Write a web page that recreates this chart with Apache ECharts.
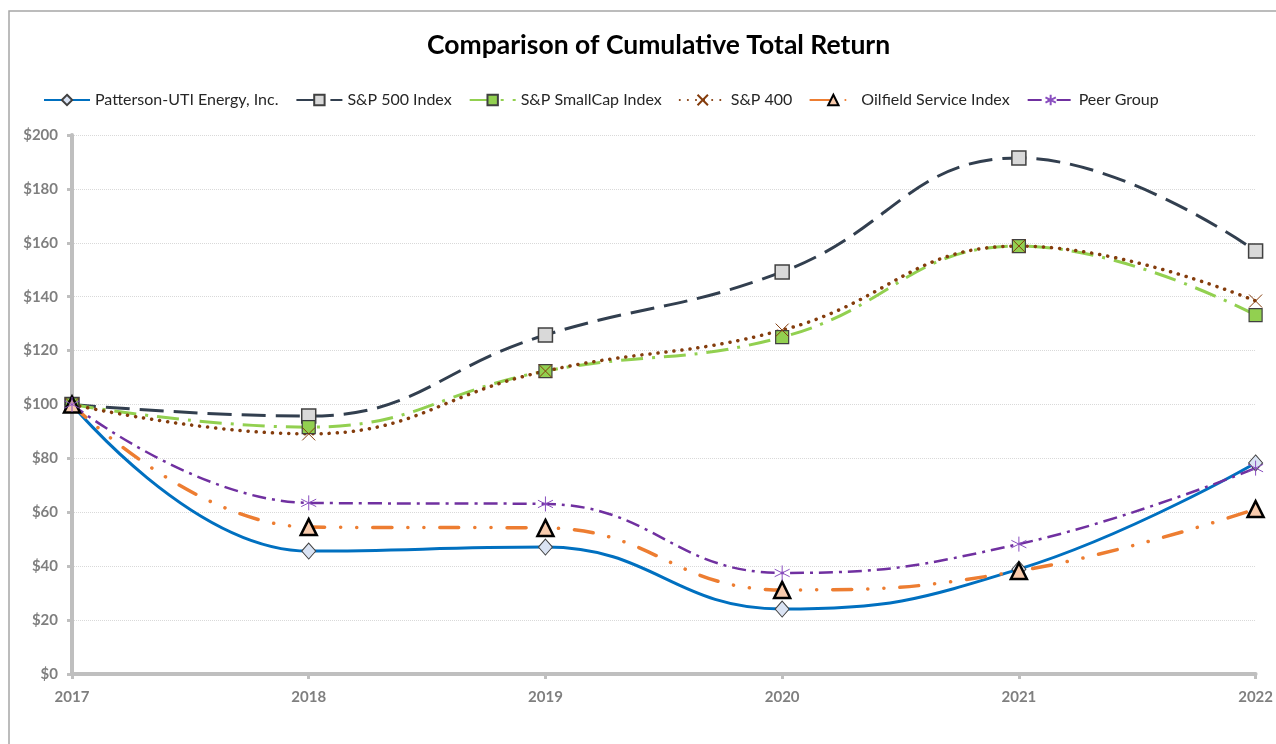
<!DOCTYPE html>
<html>
<head>
<meta charset="utf-8">
<title>Comparison of Cumulative Total Return</title>
<script src="https://cdn.jsdelivr.net/npm/echarts@6/dist/echarts.min.js"></script>
<style>
    html, body { margin: 0; padding: 0; background: #fff; }
    #main { width: 1276px; height: 744px; }
</style>
</head>
<body>
<div id="main"></div>
<script>
// years on the x axis
var years = ['2017', '2018', '2019', '2020', '2021', '2022'];

// cumulative value of $100 invested
var patterson = [100, 45.6, 47.1, 24.1, 38.9, 78.3];
var sp500 = [100, 95.7, 125.8, 149.2, 191.5, 157.0];
var smallCap = [100, 91.6, 112.4, 125.0, 158.8, 133.2];
var sp400 = [100, 89.1, 112.4, 127.6, 158.8, 138.4];
var oilfield = [100, 54.5, 54.2, 31.2, 38.2, 61.2];
var peerGroup = [100, 63.5, 63.1, 37.5, 48.2, 76.4];

var font = 'Lato, "Open Sans", sans-serif';

// path markers for the x and the asterisk
var crossPath = 'path://M0,0L10,10M10,0L0,10';
var starPath = 'path://M5,0L5,10M0.7,2.5L9.3,7.5M0.7,7.5L9.3,2.5';

var myChart = echarts.init(document.getElementById('main'));

function line(name, data, color, width, dash, cap, symbol, size, fill, border, borderWidth) {
    return {
        name: name,
        type: 'line',
        data: data,
        smooth: 0.45,
        symbol: symbol,
        symbolSize: size,
        showSymbol: true,
        lineStyle: { color: color, width: width, type: dash, cap: cap },
        itemStyle: { color: fill, borderColor: border, borderWidth: borderWidth, opacity: 1 },
        emphasis: { disabled: true }
    };
}

var option = {
    backgroundColor: '#fff',
    animation: false,
    textStyle: { fontFamily: font },
    graphic: [{
        type: 'rect',
        shape: { x: 9, y: 11, width: 1400, height: 900 },
        style: { fill: 'none', stroke: '#a6a6a6', lineWidth: 1.5 },
        silent: true
    }],
    title: {
        text: 'Comparison of Cumulative Total Return',
        left: 422,
        top: 27,
        textStyle: { fontSize: 26.5, fontWeight: 'bold', color: '#000', fontFamily: font }
    },
    legend: {
        left: 38,
        top: 87,
        itemWidth: 46,
        itemHeight: 13,
        itemGap: 17,
        textStyle: { fontSize: 16, color: '#262626', fontFamily: font }
    },
    grid: { left: 72, right: 17, top: 135, bottom: 70, containLabel: false },
    xAxis: {
        type: 'category',
        data: years,
        boundaryGap: false,
        axisLine: { lineStyle: { color: '#bfbfbf', width: 4 } },
        axisTick: { show: true, length: 5, lineStyle: { color: '#bfbfbf', width: 3 } },
        axisLabel: { color: '#7f7f7f', fontSize: 15, fontWeight: 'bold', margin: 16 },
        splitLine: { show: false }
    },
    yAxis: {
        type: 'value',
        min: 0,
        max: 200,
        interval: 20,
        axisLine: { show: true, lineStyle: { color: '#bfbfbf', width: 4 } },
        axisTick: { show: true, length: 5, lineStyle: { color: '#bfbfbf', width: 3 } },
        axisLabel: { color: '#7f7f7f', fontSize: 15, fontWeight: 'bold', margin: 14, formatter: '${value}' },
        splitLine: { lineStyle: { color: '#d9d9d9', width: 1, type: 'dotted' } }
    },
    series: [
        line('Patterson-UTI Energy, Inc.', patterson, '#0070c0', 3, 'solid', 'butt', 'diamond', [14, 16], '#dae3f3', '#404040', 1),
        line('S&P 500 Index', sp500, '#323f4f', 3, [24, 10], 'butt', 'rect', 14, '#d9d9d9', '#404040', 1.5),
        line('S&P SmallCap Index', smallCap, '#92d050', 3, [22, 9, 3, 9], 'butt', 'rect', 13, '#92d050', '#404040', 1.2),
        line('S&P 400', sp400, '#843c0c', 3.5, [0.1, 8], 'round', crossPath, 13, '#843c0c', '#843c0c', 1),
        line('Oilfield Service Index', oilfield, '#ed7d31', 3.5, [19, 16, 0.1, 16, 0.1, 16], 'round', 'triangle', 16, '#f8cbad', '#000', 2.5),
        line('Peer Group', peerGroup, '#7030a0', 2.5, [14, 6, 3, 6], 'butt', starPath, 15, '#7030a0', '#8a4fc0', 1)
    ]
};

myChart.setOption(option);
</script>
</body>
</html>
